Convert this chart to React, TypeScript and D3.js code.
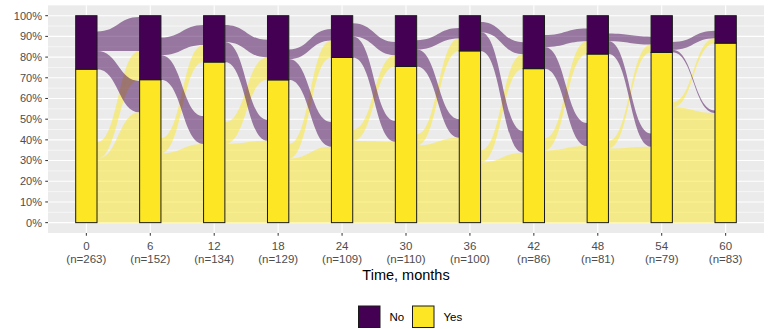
import * as d3 from 'd3'

// months and group sizes
const TIMES = [0, 6, 12, 18, 24, 30, 36, 42, 48, 54, 60]
const N = [263, 152, 134, 129, 109, 110, 100, 86, 81, 79, 83]
const YES = [195, 105, 104, 89, 87, 83, 83, 64, 66, 65, 72]

// transitions between consecutive visits (subjects seen at both)
const YY = [81, 51, 51, 40, 43, 41, 29, 30, 29, 44]
const YN = [21, 11, 14, 9, 6, 6, 6, 5, 3, 2]
const NY = [23, 18, 13, 13, 11, 9, 9, 9, 5, 1]
const NN = [25, 13, 11, 6, 7, 5, 5, 5, 3, 3]

const Y_TICKS = [0, 0.1, 0.2, 0.3, 0.4, 0.5, 0.6, 0.7, 0.8, 0.9, 1]
const Y_MINOR = [0.05, 0.15, 0.25, 0.35, 0.45, 0.55, 0.65, 0.75, 0.85, 0.95]
const LEGEND = ['No', 'Yes']

const COL = { No: '#440154', Yes: '#FDE725' }
const FONT = '"Liberation Sans", Arial, sans-serif'
const W = 771
const H = 329
const P = { l: 48, r: 764, t: 5.35, b: 233 }

interface Flow { i: number; from: 'Yes' | 'No'; l0: number; l1: number; r0: number; r1: number }

export default function App() {
  const x = d3.scalePoint<number>().domain(TIMES).range([P.l, P.r]).padding(0.6)
  const step = x.step()
  const bw = step / 3
  const y = d3.scaleLinear().domain([-0.05, 1.05]).range([P.b, P.t])

  const flows: Flow[] = []
  for (let i = 0; i < TIMES.length - 1; i++) {
    const nl = N[i], nr = N[i + 1]
    const yesL = YES[i] / nl, yesR = YES[i + 1] / nr
    // left side: Yes stratum -> (to Yes, to No); No stratum -> (to Yes, to No)
    const lYY = [0, YY[i] / nl]
    const lYN = [lYY[1], lYY[1] + YN[i] / nl]
    const lNY = [yesL, yesL + NY[i] / nl]
    const lNN = [lNY[1], lNY[1] + NN[i] / nl]
    // right side: Yes stratum <- (from Yes, from No); No stratum <- (from Yes, from No)
    const rYY = [0, YY[i] / nr]
    const rNY = [rYY[1], rYY[1] + NY[i] / nr]
    const rYN = [yesR, yesR + YN[i] / nr]
    const rNN = [rYN[1], rYN[1] + NN[i] / nr]
    flows.push({ i, from: 'Yes', l0: lYY[0], l1: lYY[1], r0: rYY[0], r1: rYY[1] })
    flows.push({ i, from: 'No', l0: lNN[0], l1: lNN[1], r0: rNN[0], r1: rNN[1] })
    flows.push({ i, from: 'Yes', l0: lYN[0], l1: lYN[1], r0: rYN[0], r1: rYN[1] })
    flows.push({ i, from: 'No', l0: lNY[0], l1: lNY[1], r0: rNY[0], r1: rNY[1] })
  }

  const flowPath = (f: Flow) => {
    const xl = (x(TIMES[f.i]) as number) + bw / 2
    const xr = (x(TIMES[f.i + 1]) as number) - bw / 2
    const xm = (xl + xr) / 2
    const p = d3.path()
    p.moveTo(xl, y(f.l1))
    p.bezierCurveTo(xm, y(f.l1), xm, y(f.r1), xr, y(f.r1))
    p.lineTo(xr, y(f.r0))
    p.bezierCurveTo(xm, y(f.r0), xm, y(f.l0), xl, y(f.l0))
    p.closePath()
    return p.toString()
  }

  const cx = (P.l + P.r) / 2

  return (
    <svg width={W} height={H} style={{ position: 'absolute', left: 0, top: 0, background: '#fff' }} fontFamily={FONT}>
      <rect x={P.l} y={P.t} width={P.r - P.l} height={P.b - P.t} fill="#EBEBEB" />
      {Y_MINOR.map((v) => <line key={'m' + v} x1={P.l} x2={P.r} y1={y(v)} y2={y(v)} stroke="#fff" strokeWidth={0.55} />)}
      {Y_TICKS.map((v) => <line key={'g' + v} x1={P.l} x2={P.r} y1={y(v)} y2={y(v)} stroke="#fff" strokeWidth={1.1} />)}
      {TIMES.map((t) => <line key={'v' + t} x1={x(t)} x2={x(t)} y1={P.t} y2={P.b} stroke="#fff" strokeWidth={1.1} />)}

      {flows.map((f, k) => <path key={k} d={flowPath(f)} fill={COL[f.from]} fillOpacity={0.5} />)}

      {TIMES.map((t, i) => {
        const x0 = (x(t) as number) - bw / 2
        const yes = YES[i] / N[i]
        return (
          <g key={'b' + t}>
            <rect x={x0} y={y(yes)} width={bw} height={y(0) - y(yes)} fill={COL.Yes} stroke="#1a1a1a" strokeWidth={1} />
            <rect x={x0} y={y(1)} width={bw} height={y(yes) - y(1)} fill={COL.No} stroke="#1a1a1a" strokeWidth={1} />
          </g>
        )
      })}

      {Y_TICKS.map((v) => (
        <g key={'yt' + v}>
          <line x1={P.l - 2.75} x2={P.l} y1={y(v)} y2={y(v)} stroke="#333" strokeWidth={1} />
          <text x={P.l - 6} y={y(v)} dy="0.35em" textAnchor="end" fontSize={11} fill="#4D4D4D">{d3.format('.0%')(v)}</text>
        </g>
      ))}
      {TIMES.map((t, i) => (
        <g key={'xt' + t}>
          <line x1={x(t)} x2={x(t)} y1={P.b} y2={P.b + 2.75} stroke="#333" strokeWidth={1} />
          <text x={x(t)} y={250} textAnchor="middle" fontSize={11.5} fill="#4D4D4D">{t}</text>
          <text x={x(t)} y={262.5} textAnchor="middle" fontSize={11.5} fill="#4D4D4D">{`(n=${N[i]})`}</text>
        </g>
      ))}
      <text x={cx} y={280} textAnchor="middle" fontSize={14.5} fill="#000">Time, months</text>

      {LEGEND.map((lab, k) => {
        const lx = 358.5 + k * 54
        return (
          <g key={lab}>
            <rect x={lx} y={306} width={21.5} height={21.5} fill={COL[lab as 'No' | 'Yes']} stroke="#1a1a1a" strokeWidth={1} />
            <text x={lx + 31} y={321} fontSize={11.5} fill="#000">{lab}</text>
          </g>
        )
      })}
    </svg>
  )
}
